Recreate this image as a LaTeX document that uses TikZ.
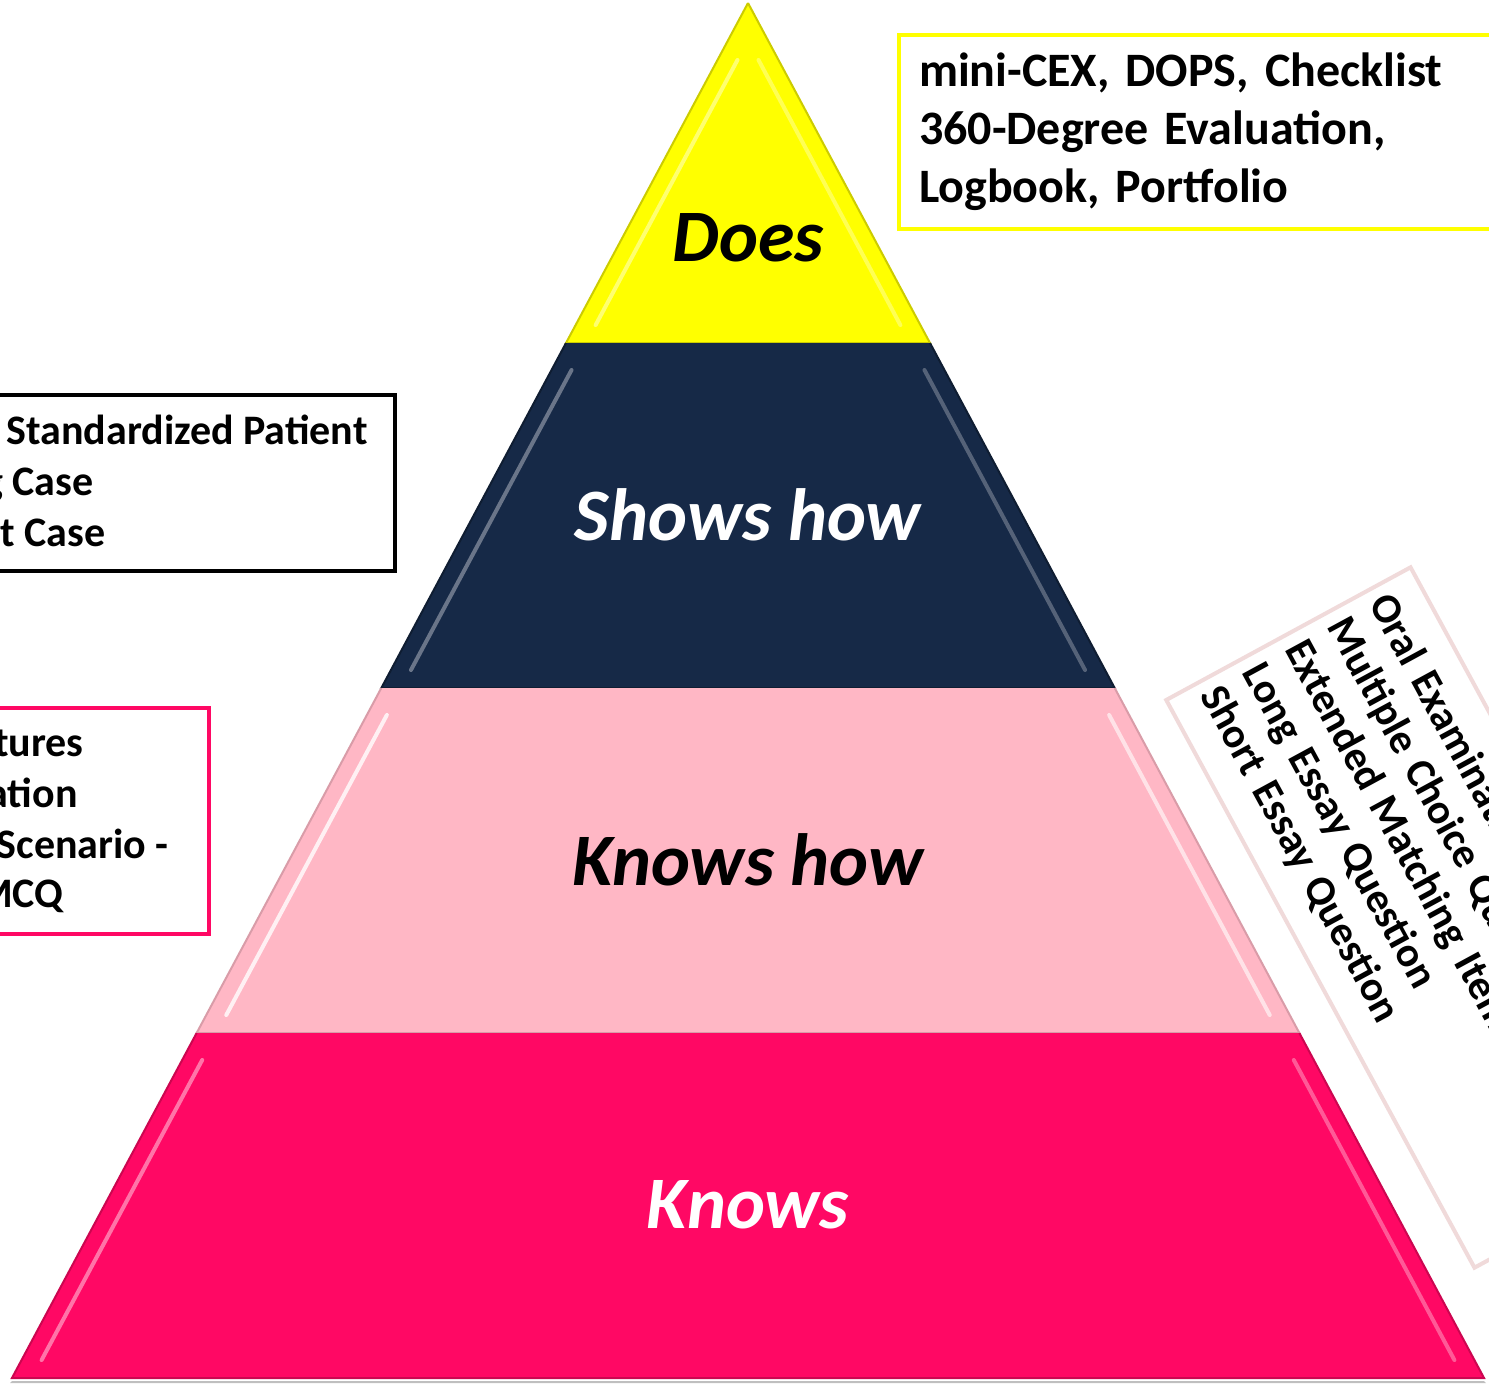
\documentclass[tikz,border=0pt]{standalone}
\usepackage{fontspec}
\setmainfont{Carlito}
\usepackage{xcolor}
\frenchspacing

\definecolor{doesyellow}{HTML}{FFFF00}
\definecolor{showsnavy}{HTML}{162947}
\definecolor{knowshowpink}{HTML}{FFB7C5}
\definecolor{knowsmagenta}{HTML}{FF0864}
\definecolor{boxrose}{HTML}{F0DADA}

\begin{document}
\begin{tikzpicture}[
x=0.5pt, y=-0.5pt,
level/.style={font=\fontsize{37}{44}\selectfont\bfseries\itshape, anchor=base, inner sep=0pt},
listbox/.style={draw, line width=2pt, inner sep=0pt},
listtext/.style={font=\fontsize{21}{25.5}\selectfont\bfseries, anchor=base east, inner sep=0pt}
]

    \path[use as bounding box] (0,0) rectangle (1489,1383);
    \clip (0,0) rectangle (1489,1383);
    \fill[white] (0,0) rectangle (1489,1383);

    % pyramid bands
    \fill[black!25] (12,1381) -- (1484,1381) -- (1486,1383) -- (10,1383) -- cycle;
    \foreach \yt/\ys/\yb/\col/\rim/\shine in {
        3/60/343/doesyellow/doesyellow!80!black/doesyellow!45!white,
        343/370/688/showsnavy/showsnavy!70!black/showsnavy!55!white,
        688/715/1033/knowshowpink/knowshowpink!85!black/white,
        1033/1060/1378/knowsmagenta/knowsmagenta!80!black/knowsmagenta!45!white} {
        \fill[\col] ({748-0.5353*(\yt-3)},\yt) -- ({748+0.5353*(\yt-3)},\yt)
            -- ({748+0.5353*(\yb-3)},\yb) -- ({748-0.5353*(\yb-3)},\yb) -- cycle;
        \draw[\rim, line width=1pt] ({748-0.5353*(\yt-3)},\yt) -- ({748-0.5353*(\yb-3)},\yb)
            -- ({748+0.5353*(\yb-3)},\yb) -- ({748+0.5353*(\yt-3)},\yt);
        \draw[\shine, line width=2pt, line cap=round, opacity=.8]
            ({748-0.5353*(\ys-3)+20},\ys) -- ({748-0.5353*(\yb-21)+20},\yb-18);
        \draw[\shine, line width=2pt, line cap=round, opacity=.6]
            ({748+0.5353*(\ys-3)-20},\ys) -- ({748+0.5353*(\yb-21)-20},\yb-18);
    }

    \node[level] (does) at (748,261) {Does};
    \node[level, text=white] (showshow) at (748,540) {Shows how};
    \node[level] (knowshow) at (748,885) {Knows how};
    \node[level, text=white] (knows) at (748,1228) {Knows};

    % assessment boxes
    \node[listbox, draw=doesyellow, anchor=north west, minimum height=97pt,
          text width=302pt, inner xsep=10pt, align=left,
          font=\fontsize{24}{29}\selectfont\bfseries] (doesbox) at (897,33)
        {mini-CEX, DOPS, Checklist\\360-Degree Evaluation,\\Logbook, Portfolio};

    \node[listbox, anchor=north east, minimum width=230pt, minimum height=88pt] (showsbox) at (397,393) {};
    \node[listtext] (sp) at (368,444) {Standardized Patient};
    \node[listtext] (longcase) at (94,495) {Long Case};
    \node[listtext] (shortcase) at (106,546) {Short Case};

    \node[listbox, draw=knowsmagenta, anchor=north east, minimum width=130pt, minimum height=113pt] (knowshowbox) at (211,706) {};
    \node[listtext] (kf) at (84,756) {tures};
    \node[listtext] (exam) at (78,807) {ation};
    \node[listtext] (scen) at (169,858) {Scenario -};
    \node[listtext] (mcq) at (64,907) {MCQ};

    \node[draw=boxrose, line width=2pt, rotate=-61.5, minimum height=139pt,
          text width=311pt, inner xsep=6pt, align=left,
          font=\fontsize{21}{24}\selectfont\bfseries] (knowsbox) at (1442.5,917.5)
        {Oral Examination\\Multiple Choice Question\\Extended Matching Item\\Long Essay Question\\Short Essay Question};

\end{tikzpicture}
\end{document}
